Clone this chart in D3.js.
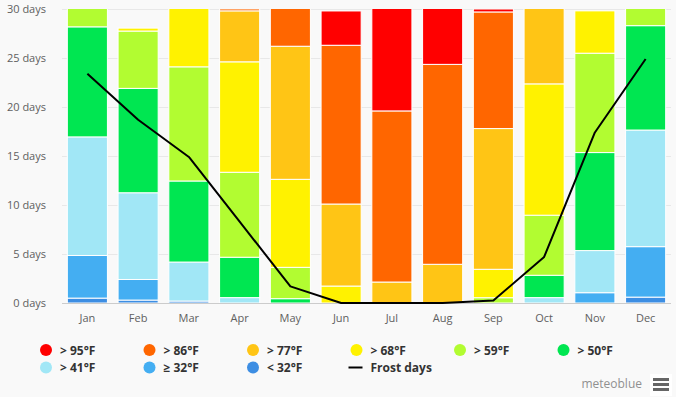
<!DOCTYPE html>
<html>
<head>
<meta charset="utf-8">
<script src="https://cdn.jsdelivr.net/npm/d3@7"></script>
<style>
  html, body { margin: 0; padding: 0; background: #f9f9f9; }
  svg { display: block; }
</style>
</head>
<body>
<svg id="chart"></svg>
<script>
// months on the x axis
const months = ['Jan', 'Feb', 'Mar', 'Apr', 'May', 'Jun', 'Jul', 'Aug', 'Sep', 'Oct', 'Nov', 'Dec'];

// days per month in each max temperature class (bottom to top of the stack)
const below32 = [0.5, 0.3, 0.2, 0, 0, 0, 0, 0, 0, 0, 0, 0.6];
const above32 = [4.35, 2.1, 0, 0, 0, 0, 0, 0, 0, 0, 1.05, 5.15];
const above41 = [12.1, 8.85, 3.98, 0.55, 0, 0, 0, 0, 0, 0.55, 4.3, 11.9];
const above50 = [11.23, 10.65, 8.27, 4.12, 0.44, 0, 0, 0, 0, 2.28, 10.0, 10.65];
const above59 = [2.8, 5.85, 11.65, 8.67, 3.2, 0, 0, 0, 0.54, 6.13, 10.14, 2.7];
const above68 = [0, 0.3, 6.9, 11.27, 8.98, 1.73, 0, 0, 2.9, 13.4, 4.32, 0];
const above77 = [0, 0, 0, 5.2, 13.58, 8.37, 2.14, 3.95, 14.36, 8.65, 0, 0];
const above86 = [0, 0, 0, 0.2, 4.8, 16.2, 17.46, 20.4, 11.9, 0, 0, 0];
const above95 = [0, 0, 0, 0, 0, 3.5, 11.4, 6.65, 0.3, 0, 0, 0];

// frost days per month
const frostDays = [23.4, 18.7, 14.9, 8.3, 1.7, 0, 0, 0, 0.25, 4.7, 17.4, 24.9];

const yTicks = [0, 5, 10, 15, 20, 25, 30];

const series = [
  { key: 'below32', label: '< 32°F', color: '#3d8ee3', values: below32 },
  { key: 'above32', label: '≥ 32°F', color: '#44aef2', values: above32 },
  { key: 'above41', label: '> 41°F', color: '#a1e7f6', values: above41 },
  { key: 'above50', label: '> 50°F', color: '#00e651', values: above50 },
  { key: 'above59', label: '> 59°F', color: '#b2fc31', values: above59 },
  { key: 'above68', label: '> 68°F', color: '#fff200', values: above68 },
  { key: 'above77', label: '> 77°F', color: '#ffc515', values: above77 },
  { key: 'above86', label: '> 86°F', color: '#ff6600', values: above86 },
  { key: 'above95', label: '> 95°F', color: '#ff0000', values: above95 }
];

const W = 676, H = 397;
const margin = { top: 9, right: 5, bottom: 94, left: 62 };
const width = W - margin.left - margin.right;
const height = H - margin.top - margin.bottom;

const svg = d3.select('#chart')
  .attr('width', W)
  .attr('height', H);

svg.append('rect')
  .attr('width', W)
  .attr('height', H)
  .attr('fill', '#f9f9f9');

const g = svg.append('g')
  .attr('transform', 'translate(' + margin.left + ',' + margin.top + ')');

const x = d3.scaleBand()
  .domain(months)
  .range([0, width])
  .paddingInner(0.21)
  .paddingOuter(0.105);

const y = d3.scaleLinear()
  .domain([0, 30])
  .range([height, 0]);

// grid lines
g.selectAll('.grid')
  .data(yTicks)
  .enter().append('line')
  .attr('class', 'grid')
  .attr('x1', 0)
  .attr('x2', width)
  .attr('y1', d => y(d) + 0.5)
  .attr('y2', d => y(d) + 0.5)
  .attr('stroke', d => d === 0 ? '#cccccc' : '#e8e8e8')
  .attr('stroke-width', 1);

// clip so that months with 31 days are cut at 30
svg.append('defs').append('clipPath')
  .attr('id', 'plotClip')
  .append('rect')
  .attr('x', 0)
  .attr('y', 0)
  .attr('width', width)
  .attr('height', height);

const rows = months.map((m, i) => {
  const row = { month: m };
  series.forEach(s => { row[s.key] = s.values[i]; });
  return row;
});

const stacked = d3.stack().keys(series.map(s => s.key))(rows);

const plot = g.append('g').attr('clip-path', 'url(#plotClip)');

plot.selectAll('.layer')
  .data(stacked)
  .enter().append('g')
  .attr('class', 'layer')
  .attr('fill', (d, i) => series[i].color)
  .selectAll('rect')
  .data(d => d.filter(p => p[1] - p[0] > 0))
  .enter().append('rect')
  .attr('x', d => x(d.data.month))
  .attr('width', x.bandwidth())
  .attr('y', d => y(d[1]))
  .attr('height', d => y(d[0]) - y(d[1]))
  .attr('stroke', '#ffffff')
  .attr('stroke-width', 1);

// frost days line
const line = d3.line()
  .x((d, i) => x(months[i]) + x.bandwidth() / 2)
  .y(d => y(d));

g.append('path')
  .datum(frostDays)
  .attr('d', line)
  .attr('fill', 'none')
  .attr('stroke', '#000000')
  .attr('stroke-width', 2)
  .attr('stroke-linejoin', 'round');

// y axis labels
g.selectAll('.ylab')
  .data(yTicks)
  .enter().append('text')
  .attr('class', 'ylab')
  .attr('x', -16)
  .attr('y', d => y(d) + 4)
  .attr('text-anchor', 'end')
  .style('font-family', '"Open Sans", sans-serif')
  .style('font-size', '11px')
  .style('fill', '#606060')
  .text(d => d + ' days');

// x axis labels
g.selectAll('.xlab')
  .data(months)
  .enter().append('text')
  .attr('class', 'xlab')
  .attr('x', d => x(d) + x.bandwidth() / 2)
  .attr('y', height + 19)
  .attr('text-anchor', 'middle')
  .style('font-family', '"Open Sans", sans-serif')
  .style('font-size', '11px')
  .style('fill', '#606060')
  .text(d => d);

// legend
const legendItems = series.slice().reverse().map(s => ({ label: s.label, color: s.color, type: 'dot' }));
legendItems.push({ label: 'Frost days', color: '#000000', type: 'line' });

const legendX = 46, legendY = 350, colW = 103.5, rowH = 17.5;

const legend = svg.selectAll('.legend')
  .data(legendItems)
  .enter().append('g')
  .attr('class', 'legend')
  .attr('transform', (d, i) => `translate(${legendX + (i % 6) * colW},${legendY + Math.floor(i / 6) * rowH})`);

legend.filter(d => d.type === 'dot').append('circle')
  .attr('r', 6)
  .attr('fill', d => d.color);

legend.filter(d => d.type === 'line').append('line')
  .attr('x1', -8)
  .attr('x2', 6)
  .attr('stroke', '#000')
  .attr('stroke-width', 2);

legend.append('text')
  .attr('x', 14)
  .attr('y', 4.5)
  .style('font-family', '"Open Sans", sans-serif')
  .style('font-size', '12px')
  .style('font-weight', 'bold')
  .style('fill', '#333333')
  .text(d => d.label);

// credits and menu
svg.append('text')
  .attr('x', 642)
  .attr('y', 388)
  .attr('text-anchor', 'end')
  .style('font-family', '"Open Sans", sans-serif')
  .style('font-size', '12px')
  .style('fill', '#909090')
  .text('meteoblue');

const menu = svg.append('g').attr('transform', 'translate(653,378)');
menu.append('rect')
  .attr('x', -3).attr('y', -4).attr('width', 22).attr('height', 22)
  .attr('fill', '#ffffff');
[0, 5, 10].forEach(dy => {
  menu.append('rect')
    .attr('x', 0).attr('y', dy).attr('width', 16).attr('height', 3)
    .attr('fill', '#666666');
});
</script>
</body>
</html>
